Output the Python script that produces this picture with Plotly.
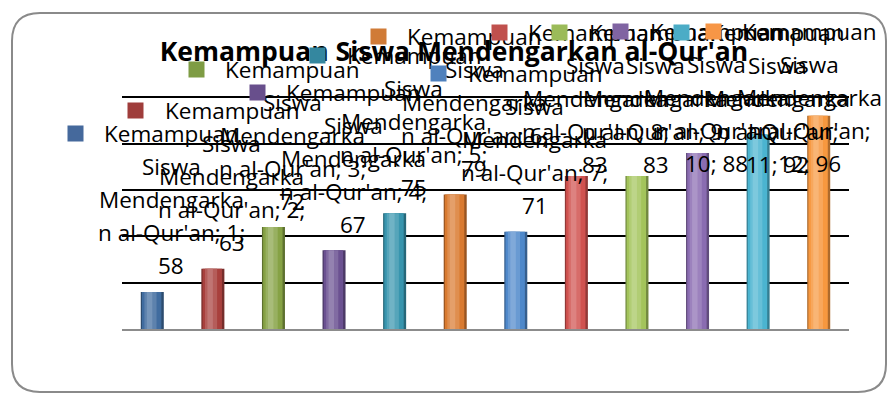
import plotly.graph_objects as go

# ---------------- data ----------------
categories = list(range(1, 13))
values = [58, 63, 72, 67, 75, 79, 71, 83, 83, 88, 92, 96]
title_text = "Kemampuan Siswa Mendengarkan al-Qur'an"
name_lines = ["Kemampuan", "Siswa", "Mendengarka", "n al-Qur'an;"]

# ---------------- styles ----------------
bar_colors = ["#406C9F", "#A8403D", "#86A245", "#6B5191", "#3895AE", "#D97A30",
              "#4E88CA", "#D0524F", "#A3C45B", "#8A6CB1", "#4BB4D0", "#F7983F"]
key_colors = ["#45699C", "#9F3D3B", "#7E9C44", "#684F8C", "#34879F", "#D07B37",
              "#4F81BD", "#C0504D", "#9BBB59", "#8064A2", "#4BACC6", "#F79646"]
FONT = "Open Sans"

W, H = 889, 394
L, R, T, B = 122, 40, 95, 65
Y0, Y1 = 50, 100.5
plot_w = W - L - R
plot_h = H - T - B
ppu = plot_h / (Y1 - Y0)
band = plot_w / len(categories)


def mix(c, other, f):
    c = c.lstrip("#"); o = other.lstrip("#")
    a = [int(c[i:i + 2], 16) for i in (0, 2, 4)]
    b = [int(o[i:i + 2], 16) for i in (0, 2, 4)]
    r = [round(a[k] * (1 - f) + b[k] * f) for k in range(3)]
    return "#%02x%02x%02x" % tuple(r)


fig = go.Figure()

# cylinder-like bars: layered overlay from dark edge to light centre
layers = [(0.38, -0.19, "#000000", 0.30),
          (0.32, -0.17, None, 0.0),
          (0.20, -0.13, "#ffffff", 0.15),
          (0.09, -0.09, "#ffffff", 0.28)]
for w, off, tint, f in layers:
    cols = [mix(c, tint, f) if tint else c for c in bar_colors]
    fig.add_trace(go.Bar(x=categories, y=values, width=w, offset=off,
                         marker=dict(color=cols, line=dict(width=0)),
                         showlegend=False, hoverinfo="skip"))

# ---------------- data labels (with legend keys) ----------------
line_offsets = [158, 125, 92, 59, 26]   # px above bar top
top_limit = 32
right_limit = 884
half_block = 75
annotations = []
for i, (cat, v) in enumerate(zip(categories, values)):
    if cat <= 9:
        lines = name_lines[:3] + [f"{name_lines[3]} {cat};", f"{v}"]
    else:
        lines = name_lines + [f"{cat}; {v}"]
    top_px = T + (Y1 - v) * ppu
    shift_down = max(0, top_limit - (top_px - line_offsets[0]))
    cx = L + (cat - 0.5) * band
    xs = 19
    if cx + xs + half_block > right_limit:
        xs -= cx + xs + half_block - right_limit
    for ln, off in zip(lines, line_offsets):
        annotations.append(dict(x=cat, y=v, xref="x", yref="y", text=ln,
                                showarrow=False, xanchor="center", yanchor="middle",
                                xshift=xs, yshift=off - shift_down,
                                font=dict(family=FONT, size=22.5, color="#000000")))
    annotations.append(dict(x=cat, y=v, xref="x", yref="y", text=" ",
                            showarrow=False, xanchor="center", yanchor="middle",
                            xshift=xs - 96, yshift=line_offsets[0] - shift_down,
                            width=15, height=15, bgcolor=key_colors[i], borderpad=0,
                            font=dict(size=2)))


# ---------------- frame ----------------
def px_x(p):
    return (p - L) / plot_w


def px_y(p):
    return (H - B - p) / plot_h


fx0, fx1, fy0, fy1, rad = 12, 886, 13, 392, 28
path = (f"M {px_x(fx0 + rad)} {px_y(fy0)} L {px_x(fx1 - rad)} {px_y(fy0)} "
        f"Q {px_x(fx1)} {px_y(fy0)} {px_x(fx1)} {px_y(fy0 + rad)} "
        f"L {px_x(fx1)} {px_y(fy1 - rad)} Q {px_x(fx1)} {px_y(fy1)} {px_x(fx1 - rad)} {px_y(fy1)} "
        f"L {px_x(fx0 + rad)} {px_y(fy1)} Q {px_x(fx0)} {px_y(fy1)} {px_x(fx0)} {px_y(fy1 - rad)} "
        f"L {px_x(fx0)} {px_y(fy0 + rad)} Q {px_x(fx0)} {px_y(fy0)} {px_x(fx0 + rad)} {px_y(fy0)} Z")

fig.update_layout(
    width=W, height=H,
    margin=dict(l=L, r=R, t=T, b=B, pad=0),
    paper_bgcolor="white", plot_bgcolor="white",
    barmode="overlay",
    title=dict(text=f"<b>{title_text}</b>", x=454 / W, y=1 - 52 / H,
               xanchor="center", yanchor="middle", xref="container", yref="container",
               font=dict(family=FONT, size=26.5, color="#000000")),
    xaxis=dict(range=[0.5, 12.5], showgrid=False, showticklabels=False, ticks="",
               showline=True, linecolor="#8c8c8c", linewidth=2, zeroline=False),
    yaxis=dict(range=[Y0, Y1], tickvals=[60, 70, 80, 90, 100], showticklabels=False,
               ticks="", gridcolor="#000000", gridwidth=2, zeroline=False, showline=False),
    annotations=annotations,
    shapes=[dict(type="path", xref="paper", yref="paper", path=path,
                 line=dict(color="#8a8a8a", width=2), fillcolor="rgba(0,0,0,0)",
                 layer="above")],
    font=dict(family=FONT),
)

fig.write_html("out.html")
